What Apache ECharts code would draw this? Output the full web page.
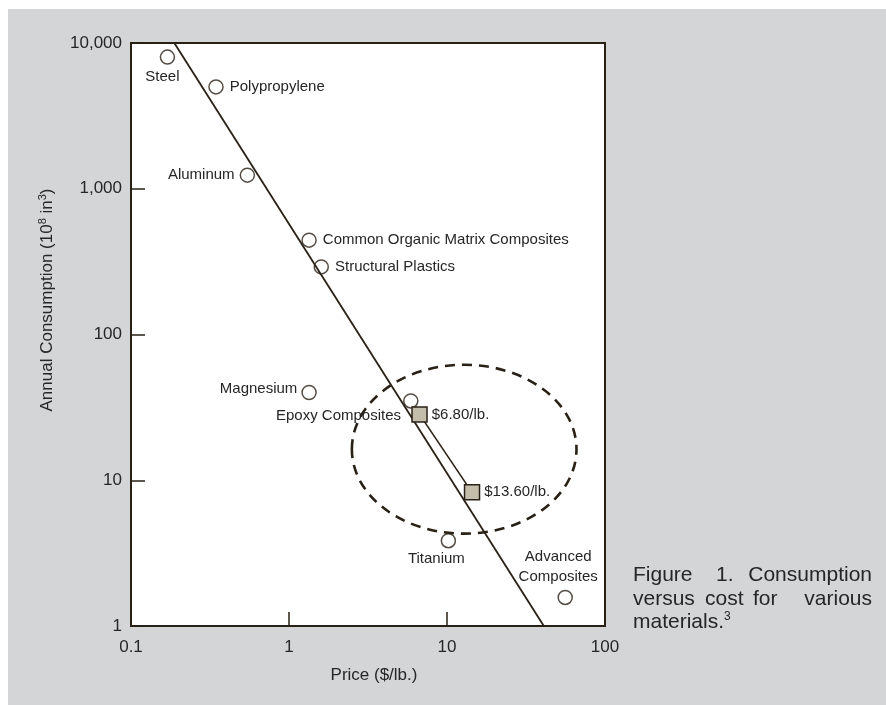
<!DOCTYPE html>
<html><head><meta charset="utf-8">
<script src="https://cdn.jsdelivr.net/npm/echarts@6/dist/echarts.min.js"></script>
<style>html,body{margin:0;padding:0;background:#fff}#c{width:886px;height:705px}</style>
</head><body><div id="c"></div>
<script>
// ---- data ----
const materials = ['Steel', 'Polypropylene', 'Aluminum', 'Common Organic Matrix Composites', 'Structural Plastics', 'Magnesium', 'Epoxy Composites', 'Titanium', 'Advanced\nComposites'];
const prices = [0.17, 0.345, 0.545, 1.34, 1.6, 1.34, 5.9, 10.2, 56];
const consumption = [8000, 5000, 1240, 444, 291, 40, 35, 3.85, 1.57];
const projectedLabels = ['$6.80/lb.', '$13.60/lb.'];
const projectedPrices = [6.7, 14.4];
const projectedConsumption = [28.3, 8.26];
const trendPrices = [0.188, 41];
const trendConsumption = [10000, 1];
const ellipsePriceRange = [2.5, 66];
const ellipseConsumptionRange = [4.3, 62];
const xTicks = [0.1, 1, 10, 100];
const xTickLabels = ['0.1', '1', '10', '100'];
const yTicks = [1, 10, 100, 1000, 10000];
const yTickLabels = ['1', '10', '100', '1,000', '10,000'];

// ---- styles ----
const FONT = "'Liberation Sans', Arial, sans-serif";
const INK = '#2a2116';
const TXT = '#262626';
const labelStyles = {
  'Steel': {position: 'bottom', distance: 4, offset: [-5, 0]},
  'Polypropylene': {position: 'right', distance: 6},
  'Aluminum': {position: 'left', distance: 5},
  'Common Organic Matrix Composites': {position: 'right', distance: 6},
  'Structural Plastics': {position: 'right', distance: 6},
  'Magnesium': {position: 'left', distance: 4, offset: [0, -4]},
  'Epoxy Composites': {position: 'left', distance: 2, offset: [0, 15]},
  'Titanium': {position: 'bottom', distance: 3, offset: [-12, 0]},
  'Advanced\nComposites': {position: 'top', distance: 3, offset: [-7, 0], lineHeight: 20, align: 'center'}
};
const baseLabel = {show: true, fontFamily: FONT, fontSize: 15, color: TXT, opacity: 1, textBorderWidth: 0};

function tickFmt(ticks, labels) {
  return function (v) {
    const i = ticks.findIndex(t => Math.abs(t - v) < 1e-6 * t);
    return i >= 0 ? labels[i] : '';
  };
}

const chart = echarts.init(document.getElementById('c'), null, {renderer: 'canvas'});
const option = {
  animation: false,
  grid: {left: 131, right: 281, top: 43, bottom: 79, show: true, backgroundColor: '#fff', borderColor: INK, borderWidth: 2},
  xAxis: {
    type: 'log', logBase: 10, min: 0.1, max: 100,
    axisLine: {show: false},
    axisTick: {show: true, inside: true, length: 14, lineStyle: {color: INK, width: 1.5}},
    splitLine: {show: false}, minorTick: {show: false},
    axisLabel: {formatter: tickFmt(xTicks, xTickLabels), margin: 13, fontFamily: FONT, fontSize: 17, color: TXT, showMinLabel: true, showMaxLabel: true}
  },
  yAxis: {
    type: 'log', logBase: 10, min: 1, max: 10000,
    axisLine: {show: false},
    axisTick: {show: true, inside: true, length: 14, lineStyle: {color: INK, width: 1.5}},
    splitLine: {show: false}, minorTick: {show: false},
    axisLabel: {formatter: tickFmt(yTicks, yTickLabels), margin: 9, fontFamily: FONT, fontSize: 17, color: TXT, showMinLabel: true, showMaxLabel: true}
  },
  series: [
    {
      type: 'line', z: 1, symbol: 'none', silent: true,
      lineStyle: {color: INK, width: 1.8},
      data: trendPrices.map((p, i) => [p, trendConsumption[i]])
    },
    {
      type: 'line', z: 1, symbol: 'none', silent: true,
      lineStyle: {color: INK, width: 1.6},
      data: projectedPrices.map((p, i) => [p, projectedConsumption[i]])
    },
    {
      type: 'scatter', z: 2, zlevel: 1, symbol: 'circle', symbolSize: 14,
      itemStyle: {color: 'rgba(255,255,255,0)', borderColor: INK, borderWidth: 1.5},
      label: baseLabel,
      data: materials.map((m, i) => ({
        name: m, value: [prices[i], consumption[i]],
        label: Object.assign({}, baseLabel, {formatter: m}, labelStyles[m])
      }))
    },
    {
      type: 'scatter', z: 5, zlevel: 1, symbol: 'rect', symbolSize: 15,
      itemStyle: {color: '#c3bdac', borderColor: INK, borderWidth: 1.5, opacity: 1},
      label: Object.assign({}, baseLabel, {position: 'right', distance: 4}),
      data: projectedPrices.map((p, i) => ({
        name: projectedLabels[i], value: [p, projectedConsumption[i]],
        label: {formatter: projectedLabels[i]}
      }))
    }
  ]
};
chart.setOption(option);

const p1 = chart.convertToPixel({gridIndex: 0}, [ellipsePriceRange[0], ellipseConsumptionRange[1]]);
const p2 = chart.convertToPixel({gridIndex: 0}, [ellipsePriceRange[1], ellipseConsumptionRange[0]]);

const capStyle = {font: "21px " + FONT, fill: TXT, verticalAlign: 'middle'};
function word(t, x, y, align) {
  return {type: 'text', x: x, y: y, style: Object.assign({}, capStyle, {text: t, align: align || 'left'})};
}

chart.setOption({
  graphic: [
    {type: 'rect', z: -100, shape: {x: 8, y: 9, width: 886, height: 705}, style: {fill: '#d4d5d7'}, silent: true},
    {type: 'ellipse', z: 10, silent: true,
     shape: {cx: (p1[0] + p2[0]) / 2, cy: (p1[1] + p2[1]) / 2, rx: Math.abs(p2[0] - p1[0]) / 2, ry: Math.abs(p2[1] - p1[1]) / 2},
     style: {fill: null, stroke: INK, lineWidth: 2.6, lineDash: [10, 7]}},
    {type: 'text', x: 47, y: 300, rotation: Math.PI / 2, z: 10,
     style: {text: '{a|Annual Consumption (10}{s|8}{a| in}{s|3}{a|)}', align: 'center', verticalAlign: 'middle',
       rich: {a: {fontFamily: FONT, fontSize: 17, fill: TXT, color: TXT}, s: {fontFamily: FONT, fontSize: 11, color: TXT, fill: TXT, verticalAlign: 'top', lineHeight: 20}}}},
    {type: 'text', x: 374, y: 675, z: 10,
     style: {text: 'Price ($/lb.)', font: '17px ' + FONT, fill: TXT, align: 'center', verticalAlign: 'middle'}},
    word('Figure', 633, 575), word('1.', 716, 575), word('Consumption', 872, 575, 'right'),
    word('versus', 633, 599), word('cost', 705, 599), word('for', 753, 599), word('various', 872, 599, 'right'),
    {type: 'text', x: 633, y: 622, z: 10,
     style: {text: '{a|materials.}{s|3}', verticalAlign: 'middle', align: 'left',
       rich: {a: {fontFamily: FONT, fontSize: 21, color: TXT, fill: TXT}, s: {fontFamily: FONT, fontSize: 12, color: TXT, fill: TXT, verticalAlign: 'top', lineHeight: 22}}}}
  ]
});
</script></body></html>
